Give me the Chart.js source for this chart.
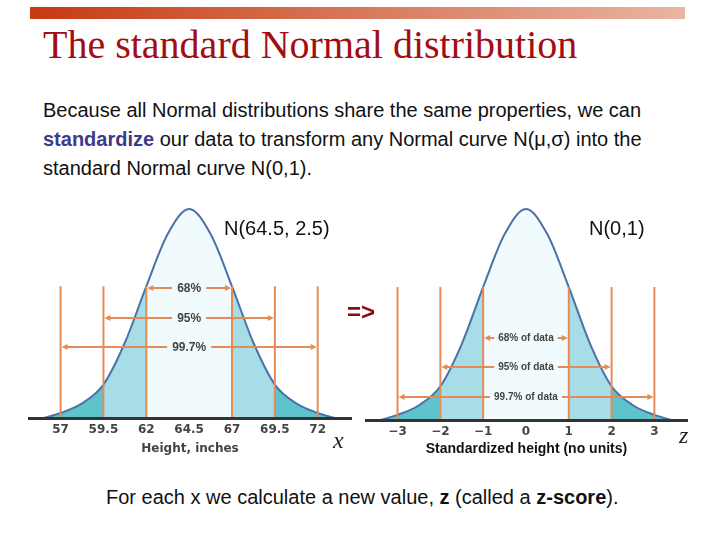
<!DOCTYPE html>
<html lang="en">
<head>
<meta charset="UTF-8">
<title>The standard Normal distribution</title>
<script src="https://cdn.jsdelivr.net/npm/chart.js"></script>
<style>
  body { margin:0; width:720px; height:540px; position:relative; overflow:hidden; background:#fff;
         font-family:"Liberation Sans", Arial, sans-serif; color:#111; }
  .abs { position:absolute; white-space:nowrap; }
  canvas { position:absolute; }
  #bar { left:30px; top:7px; width:655px; height:12px; background:linear-gradient(to right,#c63a12,#e9b5a2); }
  #title { left:43px; top:22px; font-family:"Liberation Serif","Times New Roman",serif; font-size:40px; line-height:46px; color:#a30d12; }
  #intro { left:43px; top:96px; font-size:20px; line-height:29px; }
  #intro b { color:#3b3b8c; }
  .dist { font-size:20px; line-height:22px; top:217px; }
  #arrow { left:347px; top:298px; font-size:24px; line-height:28px; font-weight:bold; color:#8b0a0a; }
  .var { font-family:"Liberation Serif","Times New Roman",serif; font-style:italic; font-size:24px; line-height:28px; color:#222; }
  #footer { left:106px; top:486px; font-size:20px; line-height:22px; }
</style>
</head>
<body>
  <div id="bar" class="abs"></div>
  <div id="title" class="abs">The standard Normal distribution</div>
  <div id="intro" class="abs">Because all Normal distributions share the same properties, we can<br>
    <b>standardize</b> our data to transform any Normal curve N(&mu;,&sigma;) into the<br>
    standard Normal curve N(0,1).</div>

  <canvas id="inchChart" width="324" height="260" style="left:28px;top:200px"></canvas>
  <canvas id="zChart" width="323" height="262" style="left:365px;top:200px"></canvas>

  <div class="abs dist" style="left:224px">N(64.5, 2.5)</div>
  <div class="abs dist" style="left:589px">N(0,1)</div>
  <div id="arrow" class="abs">=&gt;</div>
  <div class="abs var" style="left:333px;top:426px">x</div>
  <div class="abs var" style="left:679px;top:421px">z</div>
  <div id="footer" class="abs">For each x we calculate a new value, <b>z</b> (called a <b>z-score</b>).</div>

<script>
// curve (height relative to the peak)
const zValues = [-3.4, -3, -2.5, -2, -1.5, -1, -0.5, 0, 0.5, 1, 1.5, 2, 2.5, 3, 3.4];
const inchValues = [56, 57, 58.25, 59.5, 60.75, 62, 63.25, 64.5, 65.75, 67, 68.25, 69.5, 70.75, 72, 73];
const curveHeights = [0, 0.024, 0.07, 0.16, 0.36, 0.63, 0.88, 1, 0.88, 0.63, 0.36, 0.16, 0.07, 0.024, 0];

const inchTicks = [57, 59.5, 62, 64.5, 67, 69.5, 72];
const inchTickLabels = ['57', '59.5', '62', '64.5', '67', '69.5', '72'];
const zTicks = [-3, -2, -1, 0, 1, 2, 3];
const zTickLabels = ['\u22123', '\u22122', '\u22121', '0', '1', '2', '3'];

const inchRanges = [[62, 67], [59.5, 69.5], [57, 72]];
const zRanges = [[-1, 1], [-2, 2], [-3, 3]];
const inchRangeLabels = ['68%', '95%', '99.7%'];
const zRangeLabels = ['68% of data', '95% of data', '99.7% of data'];

const ORANGE = '#e58b57';
const LINE_BLUE = '#4a72a8';
const BAND_COLORS = ['#5ec3cb', '#a7dde6', '#f1fbfd', '#a7dde6', '#5ec3cb'];

// horizontal gradient with hard stops at the 1 and 2 sigma lines
function bandFill(edges) {
  return (context) => {
    const chart = context.chart;
    const area = chart.chartArea;
    if (!area) return BAND_COLORS[2];
    const xs = chart.scales.x;
    const g = chart.ctx.createLinearGradient(area.left, 0, area.right, 0);
    const stops = edges.map(v => (xs.getPixelForValue(v) - area.left) / (area.right - area.left));
    g.addColorStop(0, BAND_COLORS[0]);
    stops.forEach((p, i) => {
      g.addColorStop(p, BAND_COLORS[i]);
      g.addColorStop(p, BAND_COLORS[i + 1]);
    });
    g.addColorStop(1, BAND_COLORS[4]);
    return g;
  };
}

const guidePlugin = {
  id: 'guides',
  afterDatasetsDraw(chart, args, opts) {
    const { ctx, chartArea } = chart;
    const xs = chart.scales.x, ys = chart.scales.y;
    ctx.save();
    ctx.strokeStyle = ORANGE;
    ctx.fillStyle = ORANGE;
    ctx.lineWidth = 2;
    const top = ys.getPixelForValue(opts.top);
    opts.lines.forEach(v => {
      const px = xs.getPixelForValue(v);
      ctx.beginPath();
      ctx.moveTo(px, top);
      ctx.lineTo(px, chartArea.bottom);
      ctx.stroke();
    });

    ctx.font = opts.font;
    ctx.textAlign = 'center';
    ctx.textBaseline = 'middle';
    const cx = xs.getPixelForValue(opts.center);
    opts.ranges.forEach((r, i) => {
      const y = Math.round(ys.getPixelForValue(opts.levels[i]));
      const x1 = xs.getPixelForValue(r[0]) + 1;
      const x2 = xs.getPixelForValue(r[1]) - 1;
      const half = ctx.measureText(opts.labels[i]).width / 2 + opts.gap;
      ctx.strokeStyle = ORANGE;
      ctx.fillStyle = ORANGE;
      ctx.beginPath();
      ctx.moveTo(x1 + 4, y); ctx.lineTo(cx - half, y);
      ctx.moveTo(cx + half, y); ctx.lineTo(x2 - 4, y);
      ctx.stroke();
      ctx.beginPath();
      ctx.moveTo(x1, y); ctx.lineTo(x1 + 6, y - 3); ctx.lineTo(x1 + 6, y + 3); ctx.closePath();
      ctx.moveTo(x2, y); ctx.lineTo(x2 - 6, y - 3); ctx.lineTo(x2 - 6, y + 3); ctx.closePath();
      ctx.fill();
      ctx.fillStyle = opts.textColor;
      ctx.fillText(opts.labels[i], cx, y + 0.5);
    });
    ctx.restore();
  }
};

function makeChart(id, xs, cfg) {
  return new Chart(document.getElementById(id), {
    type: 'line',
    data: {
      datasets: [{
        data: xs.map((x, i) => ({ x: x, y: curveHeights[i] })),
        borderColor: LINE_BLUE,
        borderWidth: 2,
        backgroundColor: bandFill(cfg.bandEdges),
        fill: 'origin',
        pointRadius: 0,
        cubicInterpolationMode: 'monotone',
        clip: 4
      }]
    },
    options: {
      responsive: false,
      animation: false,
      layout: { padding: { top: 9, left: 0, right: 0, bottom: 0 } },
      scales: {
        x: {
          type: 'linear',
          min: cfg.min,
          max: cfg.max,
          grid: { display: false, drawTicks: false },
          border: { display: true, color: '#333', width: 3, z: 1 },
          afterBuildTicks: s => { s.ticks = cfg.ticks.map(v => ({ value: v })); },
          afterFit: s => { s.height = 42; },
          ticks: {
            padding: 5,
            color: '#444',
            font: { family: 'DejaVu Sans', size: 12, weight: 'bold' },
            callback: (v, i) => cfg.tickLabels[i]
          },
          title: {
            display: true,
            text: cfg.title,
            color: cfg.titleColor,
            font: cfg.titleFont,
            padding: { top: 0, bottom: 4 }
          }
        },
        y: { display: false, min: 0, max: 1 }
      },
      plugins: {
        legend: { display: false },
        tooltip: { enabled: false },
        guides: cfg.guides
      }
    },
    plugins: [guidePlugin]
  });
}

makeChart('inchChart', inchValues, {
  min: 55.1, max: 74.0,
  ticks: inchTicks, tickLabels: inchTickLabels,
  bandEdges: [59.5, 62, 67, 69.5],
  title: 'Height, inches', titleColor: '#444',
  titleFont: { family: 'DejaVu Sans', size: 12, weight: 'bold' },
  guides: {
    lines: [57, 59.5, 62, 67, 69.5, 72], top: 0.63, center: 64.5,
    ranges: inchRanges, labels: inchRangeLabels, levels: [0.622, 0.478, 0.34],
    font: 'bold 12px "Liberation Sans", Arial', textColor: '#444', gap: 5
  }
});

makeChart('zChart', zValues, {
  min: -3.76, max: 3.785,
  ticks: zTicks, tickLabels: zTickLabels,
  bandEdges: [-2, -1, 1, 2],
  title: 'Standardized height (no units)', titleColor: '#111',
  titleFont: { family: 'Liberation Sans', size: 14, weight: 'bold' },
  guides: {
    lines: [-3, -2, -1, 1, 2, 3], top: 0.63, center: 0,
    ranges: zRanges, labels: zRangeLabels, levels: [0.39, 0.25, 0.11],
    font: 'bold 10px "Liberation Sans", Arial', textColor: '#444', gap: 4
  }
});
</script>
</body>
</html>
